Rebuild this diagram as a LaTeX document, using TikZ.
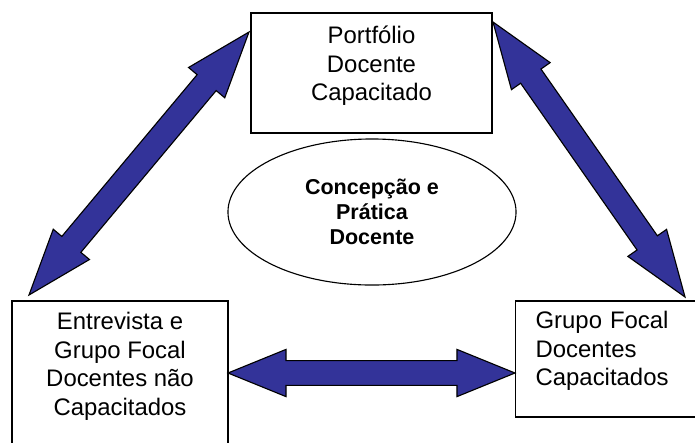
\documentclass[tikz,border=0pt]{standalone}
\usepackage{fontspec}
\setmainfont{Liberation Sans}
\usetikzlibrary{calc,shapes.geometric}

\definecolor{arrowblue}{RGB}{51,51,153}

\tikzset{
  box/.style={draw=black, line width=0.9pt, rectangle, align=center, font=\fontsize{17}{20.3}\selectfont},
  bubble/.style={draw=black, line width=0.8pt, ellipse, inner sep=0pt, align=center, font=\fontsize{15.3}{17.6}\selectfont\bfseries},
  bigarrow/.style={draw=black, fill=arrowblue, line width=0.8pt, line join=miter}
}

\newcommand{\dstrut}[1]{\rule[-#1]{0pt}{#1}}

\newcommand{\dblarrow}[3]{%
  \filldraw[bigarrow] (#2)
    -- ($(#2)!#1!(#3)!0.59cm!90:(#3)$)
    -- ($(#2)!#1!(#3)!0.31cm!90:(#3)$)
    -- ($(#3)!#1!(#2)!0.31cm!-90:(#2)$)
    -- ($(#3)!#1!(#2)!0.59cm!-90:(#2)$)
    -- (#3)
    -- ($(#3)!#1!(#2)!0.59cm!90:(#2)$)
    -- ($(#3)!#1!(#2)!0.31cm!90:(#2)$)
    -- ($(#2)!#1!(#3)!0.31cm!-90:(#3)$)
    -- ($(#2)!#1!(#3)!0.59cm!-90:(#3)$)
    -- cycle;
}

\begin{document}
\begin{tikzpicture}[x=0.025cm, y=-0.025cm]

\useasboundingbox (0,0) rectangle (695,442);
\clip (0,0) rectangle (695,442);

\node[box, minimum width=6.025cm, minimum height=3cm] (port) at (371.5,73) {Portfólio\\Docente\\Capacitado\dstrut{13.5pt}};

\node[box, minimum width=5.4cm, minimum height=3.725cm] (entrev) at (120,375.5) {Entrevista e\\Grupo Focal\\Docentes não\\Capacitados\dstrut{16.3pt}};

\node[box, align=left, text width=6cm, inner xsep=0.5cm, minimum height=2.9cm, anchor=west] (grupo) at (515,359) {Grupo Focal\\Docentes\\Capacitados\dstrut{15pt}};

\node[bubble, minimum width=7.2cm, minimum height=3.65cm] (conc) at (372,212) {Concepção e\\Prática\\Docente};

\coordinate (portw) at (249,32);
\coordinate (entrevn) at (29,295);
\coordinate (porte) at (493,22);
\coordinate (grupon) at (685,297);
\coordinate (entreve) at (228,373);
\coordinate (grupow) at (515,373);

\dblarrow{1.65cm}{entrevn}{portw}

\dblarrow{1.65cm}{porte}{grupon}

\dblarrow{1.45cm}{entreve}{grupow}

\end{tikzpicture}
\end{document}
